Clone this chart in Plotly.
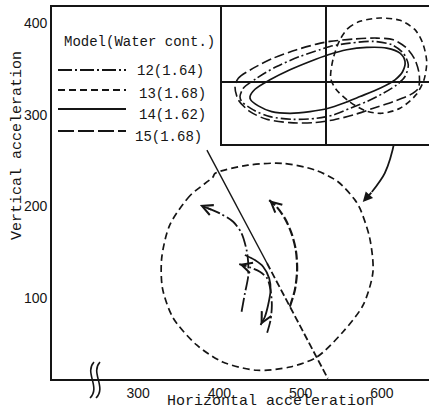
import plotly.graph_objects as go

# ---------------- data ----------------
X_RANGE = [194, 658]
Y_RANGE = [12.5, 417]
x_ticks = [300, 400, 500, 600]
y_ticks = [100, 200, 300, 400]

# model 13 large loop (main plot)
m13_loop_x = [392, 364, 339, 329, 330, 343, 372, 404, 446, 487, 520, 552, 577, 589,
              585, 573, 567, 546, 517, 477, 435, 394.5, 392]
m13_loop_y = [232, 212, 180, 144, 111, 79, 49.5, 31, 22, 25.5, 36.4, 63.6, 93, 129,
              166, 198, 207, 227, 240, 247, 245, 236, 232]

# trajectories (main plot)
m12_path_x = [427.3, 431.4, 435.4, 435.4, 433.5, 427.3, 417, 400.6, 376]
m12_path_y = [85.6, 105.6, 123.7, 140, 152.7, 170.9, 183.5, 192.6, 201.6]
m14_path_x = [431.4, 443.7, 453.9, 461.3, 463, 460, 456, 450.7]
m14_path_y = [147.3, 141.8, 134.6, 122, 109.2, 92.9, 80.2, 71.2]
m15_path_x = [458.8, 463, 464.6, 463, 458.8, 449.8, 437.5, 424.4]
m15_path_y = [62.8, 76.6, 92.9, 109.2, 122, 129.1, 133.9, 137.5]
m13_path_x = [486.7, 492.9, 495.7, 494.1, 488.8, 480.6, 470.4, 461.3]
m13_path_y = [91.1, 109.2, 131, 152.7, 170.9, 187.2, 199.8, 207]

# leader line from label 15 and its dashed continuation
leader_x = [384.7, 458.5]
leader_y = [261.4, 138.6]
leader_dash_x = [458.5, 533.5]
leader_dash_y = [138.6, 13]

# curved arrow from inset to big loop
big_arrow_x = [619.6, 615.9, 603.6, 587.6, 576.5]
big_arrow_y = [301.6, 272.3, 236.4, 215.8, 204.9]

# inset loops (normalized units, origin at crosshair)
i14_x = [-0.76, -0.71, -0.56, -0.36, -0.16, 0.023, 0.207, 0.407, 0.607, 0.74, 0.79, 0.767,
         0.69, 0.54, 0.34, 0.173, 0.023, -0.16, -0.36, -0.543, -0.677, -0.753, -0.76]
i14_y = [-0.15, -0.077, 0.017, 0.117, 0.20, 0.267, 0.317, 0.34, 0.333, 0.283, 0.20, 0.10,
         0.017, -0.067, -0.15, -0.217, -0.267, -0.30, -0.317, -0.30, -0.243, -0.183, -0.15]
i12_x = [-0.86, -0.827, -0.693, -0.493, -0.26, -0.06, 0.04, 0.24, 0.473, 0.657, 0.773, 0.823,
         0.79, 0.707, 0.573, 0.407, 0.24, 0.073, -0.093, -0.327, -0.56, -0.727, -0.843, -0.86]
i12_y = [-0.15, -0.067, 0.033, 0.15, 0.25, 0.317, 0.35, 0.383, 0.40, 0.367, 0.283, 0.167,
         0.05, -0.033, -0.117, -0.20, -0.267, -0.333, -0.367, -0.377, -0.35, -0.283, -0.20, -0.15]
i15_x = [-0.91, -0.877, -0.727, -0.527, -0.293, -0.093, 0.04, 0.273, 0.507, 0.673, 0.807, 0.89,
         0.933, 0.923, 0.84, 0.673, 0.473, 0.273, 0.073, -0.127, -0.36, -0.593, -0.76, -0.877, -0.91]
i15_y = [-0.05, 0.033, 0.133, 0.233, 0.317, 0.373, 0.40, 0.423, 0.433, 0.417, 0.333, 0.217,
         0.067, -0.067, -0.133, -0.20, -0.267, -0.333, -0.383, -0.41, -0.41, -0.377, -0.30, -0.183, -0.05]
i13_x = [0.14, 0.223, 0.34, 0.54, 0.74, 0.89, 0.967, 1.007, 0.98, 0.90, 0.74, 0.557, 0.39,
         0.233, 0.10, 0.047, 0.073, 0.14]
i13_y = [0.417, 0.533, 0.60, 0.633, 0.61, 0.517, 0.383, 0.20, 0.017, -0.133, -0.267, -0.317,
         -0.29, -0.20, -0.077, 0.033, 0.233, 0.417]
INSET_X = [-1.043, 1.03]
INSET_Y = [-0.623, 0.743]

legend_title = "Model(Water cont.)"
legend_labels = ["12(1.64)", "13(1.68)", "14(1.62)", "15(1.68)"]

# ---------------- styles ----------------
INK = "#151515"
D12 = "14px,3px,2px,3px"
D13 = "7px,4px"
D14 = "solid"
D15 = "16px,4px"
MONO = "Liberation Mono, Courier New, monospace"
SANS = "Liberation Sans, Arial, sans-serif"

W, H = 429, 412
ML, MR, MT, MB = 52, 0, 7, 33
PW, PH = W - ML - MR, H - MT - MB


def pp(px, py):
    return (px - ML) / PW, (H - MB - py) / PH


fig = go.Figure()


def line(x, y, dash, width=1.8, xa="x", ya="y", spline=True):
    fig.add_trace(go.Scatter(
        x=x, y=y, mode="lines", xaxis=xa, yaxis=ya, showlegend=False, hoverinfo="skip",
        line=dict(color=INK, width=width, dash=dash, shape="spline" if spline else "linear",
                  smoothing=0.8)))


# main plot
line(m13_loop_x, m13_loop_y, D13, 1.7)
line(m12_path_x, m12_path_y, D12, 1.8)
line(m14_path_x, m14_path_y, D14, 1.8)
line(m15_path_x, m15_path_y, "12px,3px,2px,3px", 1.8)
line(m13_path_x, m13_path_y, "9px,3px", 2.2)
line(leader_x, leader_y, D14, 1.4, spline=False)
line(leader_dash_x, leader_dash_y, "7px,3px", 1.8, spline=False)
line(big_arrow_x[:-1], big_arrow_y[:-1], D14, 1.8)

# inset
line(i15_x, i15_y, "10px,4px", 1.6, "x2", "y2")
line(i12_x, i12_y, "10px,3px,2px,3px", 1.6, "x2", "y2")
line(i14_x, i14_y, D14, 1.7, "x2", "y2")
line(i13_x, i13_y, "6px,4px", 1.6, "x2", "y2")

annotations = []


def arrow_end(xs, ys, head=5, size=1.3, frac=0.6):
    tx, ty = xs[-1], ys[-1]
    bx = tx - frac * (tx - xs[-2])
    by = ty - frac * (ty - ys[-2])
    annotations.append(dict(x=tx, y=ty, ax=bx, ay=by, xref="x", yref="y", axref="x", ayref="y",
                            showarrow=True, arrowhead=head, arrowsize=size, arrowwidth=1.6,
                            arrowcolor=INK, text="", font=dict(size=1), borderpad=0))


arrow_end(m12_path_x, m12_path_y)
arrow_end(m14_path_x, m14_path_y)
arrow_end(m15_path_x, m15_path_y)
arrow_end(m13_path_x, m13_path_y)
annotations.append(dict(x=big_arrow_x[-1], y=big_arrow_y[-1], ax=big_arrow_x[-2], ay=big_arrow_y[-2],
                        xref="x", yref="y", axref="x", ayref="y", showarrow=True, arrowhead=2,
                        arrowsize=1.1, arrowwidth=1.8, arrowcolor=INK, text="",
                        font=dict(size=1), borderpad=0))

# legend (custom)
shapes = []
tx, ty = pp(62, 42)
annotations.append(dict(x=tx, y=ty, xref="paper", yref="paper", text=legend_title, showarrow=False,
                        xanchor="left", yanchor="middle", font=dict(family=MONO, size=14, color=INK)))
leg_line_y = [70, 90, 109, 131]
leg_text_y = [71, 94, 115, 137]
leg_text_x = [135, 137, 137, 133]
leg_dash = [D12, D13, D14, D15]
for lbl, lyl, lyt, lxt, dsh in zip(legend_labels, leg_line_y, leg_text_y, leg_text_x, leg_dash):
    x0, y0 = pp(58, lyl)
    x1, _ = pp(126, lyl)
    shapes.append(dict(type="line", xref="paper", yref="paper", x0=x0, x1=x1, y0=y0, y1=y0,
                       line=dict(color=INK, width=1.8, dash=dsh)))
    ax_, ay_ = pp(lxt, lyt)
    annotations.append(dict(x=ax_, y=ay_, xref="paper", yref="paper", text=lbl, showarrow=False,
                            xanchor="left", yanchor="middle", font=dict(family=MONO, size=14, color=INK)))

# axis titles
tx, ty = pp(270, 411)
annotations.append(dict(x=tx, y=ty, xref="paper", yref="paper", text="Horizontal acceleration",
                        showarrow=False, xanchor="center", yanchor="bottom", borderpad=0,
                        font=dict(family=MONO, size=15, color=INK)))
tx, ty = pp(17, 146)
annotations.append(dict(x=tx, y=ty, xref="paper", yref="paper", text="Vertical acceleration",
                        showarrow=False, textangle=-90, xanchor="center", yanchor="middle",
                        font=dict(family=MONO, size=15, color=INK)))

# axis break mark
for off in (0, 6):
    p0 = pp(94 + off, 362)
    c1 = pp(84 + off, 373)
    c2 = pp(101 + off, 387)
    p1 = pp(90 + off, 398)
    path = (f"M {p0[0]:.4f},{p0[1]:.4f} C {c1[0]:.4f},{c1[1]:.4f} "
            f"{c2[0]:.4f},{c2[1]:.4f} {p1[0]:.4f},{p1[1]:.4f}")
    shapes.append(dict(type="path", xref="paper", yref="paper", path=path,
                       line=dict(color=INK, width=1.6)))

ix0, iy0 = pp(221.7, 144)
fig.update_layout(
    width=W, height=H, margin=dict(l=ML, r=MR, t=MT, b=MB),
    paper_bgcolor="white", plot_bgcolor="white",
    xaxis=dict(range=X_RANGE, tickvals=x_ticks, ticks="", showgrid=False, zeroline=False,
               showline=True, linecolor=INK, linewidth=1.8, mirror=True,
               tickfont=dict(family=SANS, size=14, color=INK)),
    yaxis=dict(range=Y_RANGE, tickvals=y_ticks, ticks="", showgrid=False, zeroline=False,
               showline=True, linecolor=INK, linewidth=1.8,
               tickfont=dict(family=SANS, size=14, color=INK)),
    xaxis2=dict(domain=[ix0, 1], range=INSET_X, anchor="y2", showticklabels=False, ticks="",
                showgrid=False, zeroline=True, zerolinecolor=INK, zerolinewidth=1.5,
                showline=True, linecolor=INK, linewidth=1.6),
    yaxis2=dict(domain=[iy0, 1], range=INSET_Y, anchor="x2", showticklabels=False, ticks="",
                showgrid=False, zeroline=True, zerolinecolor=INK, zerolinewidth=1.5,
                showline=True, linecolor=INK, linewidth=1.6),
    annotations=annotations, shapes=shapes,
)
fig.write_html("out.html", config={"displayModeBar": False},
               post_script="document.body.style.margin='0';document.body.style.overflow='hidden';")
